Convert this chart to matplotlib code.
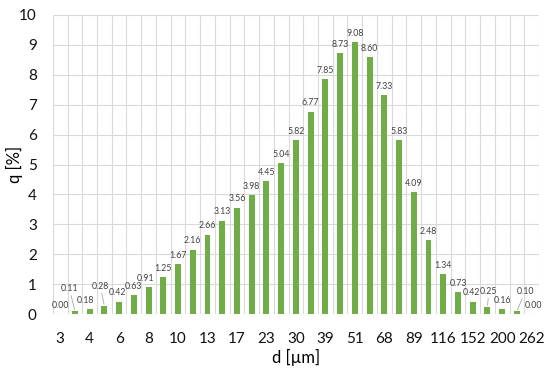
import numpy as np
import matplotlib
matplotlib.use('Agg')
import matplotlib.pyplot as plt

# --- DATA ---
tick_labels = ['3', '4', '6', '8', '10', '13', '17', '23', '30', '39',
               '51', '68', '89', '116', '152', '200', '262']
q_values = [0.00, 0.11, 0.18, 0.28, 0.42, 0.63, 0.91, 1.25, 1.67, 2.16,
            2.66, 3.13, 3.56, 3.98, 4.45, 5.04, 5.82, 6.77, 7.85, 8.73,
            9.08, 8.60, 7.33, 5.83, 4.09, 2.48, 1.34, 0.73, 0.42, 0.25,
            0.16, 0.10, 0.00]

# label nudges (points) for the crowded small bars; True = draw leader line
LABEL_NUDGE = {
    1: (-4, 10, True),
    2: (-3, 0, False),
    3: (-3, 8, True),
    4: (-1, 0, False),
    6: (-2, 0, False),
    28: (-1, 0, False),
    29: (1, 5, True),
    31: (6, 8, True),
    32: (1, 0, False),
}

GREEN = '#70AD47'
GRID = '#D9D9D9'

plt.rcParams['font.family'] = ['Lato', 'DejaVu Sans']

fig = plt.figure(figsize=(5.5, 3.74), dpi=100)
ax = fig.add_axes([0.096, 0.160, 0.884, 0.800])

x = np.arange(len(q_values))
ax.bar(x, q_values, width=0.4, color=GREEN, zorder=3)

# grid: horizontal at each unit, vertical at category boundaries
for b in np.arange(-0.5, len(q_values) + 0.5, 1):
    ax.axvline(b, color=GRID, lw=0.8, zorder=1)
ax.set_yticks(range(0, 11))
ax.yaxis.grid(True, color=GRID, lw=0.8, zorder=1)
ax.set_axisbelow(True)

ax.set_xlim(-0.5, len(q_values) - 0.5)
ax.set_ylim(0, 10)
ax.set_xticks(x[::2])
ax.set_xticklabels(tick_labels)
for s in ax.spines.values():
    s.set_visible(False)
ax.tick_params(axis='both', length=0, labelsize=11, colors='#111111')
ax.tick_params(axis='x', pad=12.5)
ax.tick_params(axis='y', pad=11.5)

ax.set_xlabel('d [µm]', fontsize=12)
ax.set_ylabel('q [%]', fontsize=12)
ax.xaxis.set_label_coords(0.5, -0.118)
ax.yaxis.set_label_coords(-0.062, 0.5)

for i, v in enumerate(q_values):
    dx, dy, lead = LABEL_NUDGE.get(i, (0, 0, False))
    kw = {}
    if lead:
        kw['arrowprops'] = dict(arrowstyle='-', color='#A6A6A6', lw=0.6,
                                shrinkA=0, shrinkB=1)
    ax.annotate(f'{v:.2f}', xy=(i, v), xytext=(dx, 3 + dy),
                textcoords='offset points', ha='center', va='bottom',
                fontsize=6.3, color='#404040', zorder=4, **kw)

fig.savefig('out.png', dpi=100)
